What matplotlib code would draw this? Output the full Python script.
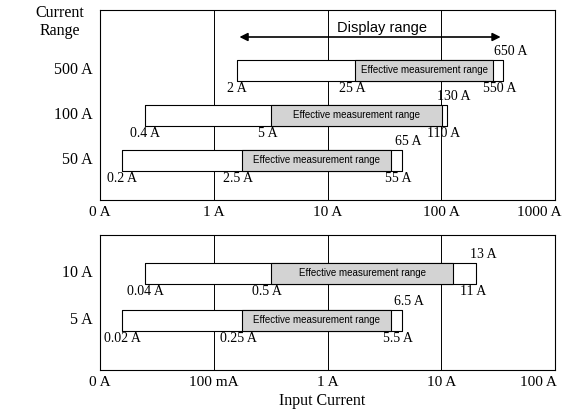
import matplotlib
matplotlib.use("Agg")
import matplotlib.pyplot as plt
import math

SERIF = "Liberation Serif"
SANS = "Liberation Sans"

# top panel
top_ranges = ["500 A", "100 A", "50 A"]
top_white = [(1.59, 352), (0.249, 112), (0.156, 44.9)]
top_gray = [(17.6, 287), (3.18, 101), (1.77, 35.9)]
top_lbl_min = ["2 A", "0.4 A", "0.2 A"]
top_lbl_gs = ["25 A", "5 A", "2.5 A"]
top_lbl_ge = ["550 A", "110 A", "55 A"]
top_lbl_max = ["650 A", "130 A", "65 A"]
top_ticks = [0.1, 1, 10, 100, 1000]
top_ticklabels = ["0 A", "1 A", "10 A", "100 A", "1000 A"]

# bottom panel
bot_ranges = ["10 A", "5 A"]
bot_white = [(0.025, 20.4), (0.0156, 4.49)]
bot_gray = [(0.318, 12.8), (0.177, 3.59)]
bot_lbl_min = ["0.04 A", "0.02 A"]
bot_lbl_gs = ["0.5 A", "0.25 A"]
bot_lbl_ge = ["11 A", "5.5 A"]
bot_lbl_max = ["13 A", "6.5 A"]
bot_ticks = [0.01, 0.1, 1, 10, 100]
bot_ticklabels = ["0 A", "100 mA", "1 A", "10 A", "100 A"]

W, H = 567, 418
fig = plt.figure(figsize=(5.67, 4.18), dpi=100)

def make_ax(top, bottom):
    ax = fig.add_axes([100/W, (H-bottom)/H, 455/W, (bottom-top)/H])
    ax.set_xscale("log")
    ax.set_ylim(bottom, top)
    ax.set_yticks([])
    ax.set_xticks([])
    ax.minorticks_off()
    for s in ax.spines.values():
        s.set_linewidth(0.8)
    return ax

def draw(ax, ticks, labels, rows, whites, grays, lmin, lgs, lge, lmax, ycent, top, bottom):
    ax.set_xlim(ticks[0], ticks[-1])
    for t in ticks[1:-1]:
        ax.axvline(t, color="black", lw=0.7, zorder=0)
    for j, (t, l) in enumerate(zip(ticks, labels)):
        x = t * 0.72 if j == len(ticks) - 1 else t
        ax.text(x, bottom + 12, l, ha="center", va="center", fontsize=11,
                family=SERIF, clip_on=False)
    for i, yc in enumerate(ycent):
        h = 21
        w0, w1 = whites[i]
        g0, g1 = grays[i]
        ax.fill_between([w0, w1], yc - h/2, yc + h/2, facecolor="white",
                        edgecolor="black", lw=0.8, zorder=2)
        ax.fill_between([g0, g1], yc - h/2, yc + h/2, facecolor="#d3d3d3",
                        edgecolor="black", lw=0.8, zorder=3)
        gm = math.sqrt(g0 * g1)
        ax.text(gm, yc, "Effective measurement range", ha="center", va="center",
                fontsize=7, family=SANS, zorder=4)
        ax.text(w0, yc + h/2 + 8, lmin[i], ha="center", va="center",
                fontsize=10, family=SERIF)
        ax.text(g0 * 0.93, yc + h/2 + 8, lgs[i], ha="center", va="center",
                fontsize=10, family=SERIF)
        ax.text(w1 * 0.93, yc + h/2 + 8, lge[i], ha="center", va="center",
                fontsize=10, family=SERIF)
        ax.text(w1 * 1.15, yc - h/2 - 8, lmax[i], ha="center", va="center",
                fontsize=10, family=SERIF)
        ax.text(0.86*ticks[0], yc, rows[i], ha="right", va="center", fontsize=11.5,
                family=SERIF, clip_on=False)

ax1 = make_ax(10, 200)
draw(ax1, top_ticks, top_ticklabels, top_ranges, top_white, top_gray,
     top_lbl_min, top_lbl_gs, top_lbl_ge, top_lbl_max, [70, 115, 160], 10, 200)
ax1.annotate("", xy=(top_white[0][0], 37), xytext=(top_white[0][1], 37),
             arrowprops=dict(arrowstyle="<|-|>", color="black", lw=1.2,
                             mutation_scale=12))
ax1.text(30, 28, "Display range", ha="center", va="center", fontsize=10.5,
         family=SANS, bbox=dict(facecolor="white", edgecolor="none", pad=1))

ax2 = make_ax(235, 370)
draw(ax2, bot_ticks, bot_ticklabels, bot_ranges, bot_white, bot_gray,
     bot_lbl_min, bot_lbl_gs, bot_lbl_ge, bot_lbl_max, [273, 320], 235, 370)

fig.text(60/W, 1 - 22/H, "Current\nRange", ha="center", va="center",
         fontsize=11.5, family=SERIF, linespacing=1.1)
fig.text(322/W, 1 - 401/H, "Input Current", ha="center", va="center",
         fontsize=11.5, family=SERIF)

fig.savefig("out.png", dpi=100)
